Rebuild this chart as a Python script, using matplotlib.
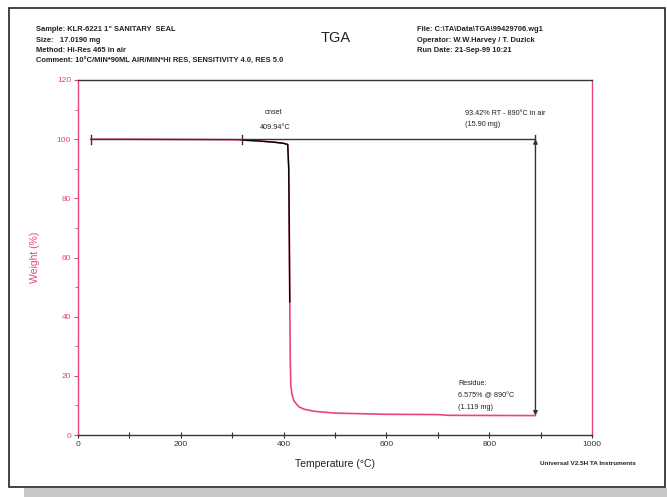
import matplotlib
matplotlib.use("Agg")
import matplotlib.pyplot as plt
from matplotlib.patches import Rectangle

# TGA curve
temp = [25, 100, 200, 300, 320, 350, 380, 400, 408, 410, 411, 412, 413, 414,
        416, 420, 430, 440, 460, 500, 550, 600, 650, 700, 720, 800, 890]
weight = [100.0, 100.0, 99.9, 99.8, 99.7, 99.4, 99.0, 98.6, 98.2, 90.0, 70.0, 45.0, 25.0, 17.0,
          14.0, 11.5, 9.5, 8.7, 8.0, 7.4, 7.2, 7.0, 6.95, 6.9, 6.65, 6.6, 6.575]

# step analysis marks
step_start = 25
onset_temp = 409.94
onset_mark = 320
step_end = 890
start_weight = 100.0
residue = 6.575

header_left = ['Sample: KLR-6221 1" SANITARY  SEAL',
               'Size:   17.0190 mg',
               'Method: Hi-Res 465 in air',
               'Comment: 10\u00b0C/MIN*90ML AIR/MIN*HI RES, SENSITIVITY 4.0, RES 5.0']
header_right = ['File: C:\\TA\\Data\\TGA\\99429706.wg1',
                'Operator: W.W.Harvey / T. Duzick',
                'Run Date: 21-Sep-99 10:21']

pink = "#e8457a"
dark = "#333333"
plt.rcParams['font.family'] = ['Liberation Sans', 'DejaVu Sans']

fig = plt.figure(figsize=(6.67, 4.97), dpi=100)
W, H = 667.0, 497.0

# outer frame and grey shadow band
fig.patches.append(Rectangle((24 / W, 0), 1 - 24 / W, 1 - 488 / H, transform=fig.transFigure,
                             facecolor="#c8c8c8", edgecolor="none", zorder=0))
fig.patches.append(Rectangle((9 / W, 1 - 487 / H), 656 / W, 479 / H, transform=fig.transFigure,
                             facecolor="white", edgecolor="#222222", linewidth=1.2, zorder=1))

ax = fig.add_axes([78 / W, 1 - 435 / H, 514 / W, 355 / H])
ax.set_zorder(2)
ax.plot(temp, weight, color=pink, linewidth=1.2, zorder=3)
seg_t = [t for t in temp if onset_mark <= t <= 412]
seg_w = [w for t, w in zip(temp, weight) if onset_mark <= t <= 412]
ax.plot(seg_t, seg_w, color="black", linewidth=1.0, zorder=4)

# step line with end bars
ax.plot([step_start, step_end], [start_weight, start_weight], color=dark, linewidth=1.0, zorder=5)
for xb in [step_start, onset_mark, step_end]:
    ax.plot([xb, xb], [start_weight - 1.5, start_weight + 1.5], color=dark, linewidth=1.0, zorder=5)
ax.annotate("", xy=(step_end, residue), xytext=(step_end, start_weight),
            arrowprops=dict(arrowstyle="<|-|>", color=dark, linewidth=1.0,
                            mutation_scale=6, shrinkA=0, shrinkB=0), zorder=5)

fs = 5.2
ax.text(380, 108.5, "onset", fontsize=fs, ha="center", color="#222222")
ax.text(384, 103.3, "%.2f\u00b0C" % onset_temp, fontsize=fs, ha="center", color="#222222")
ax.text(752, 108.3, "93.42% RT - 890\u00b0C in air", fontsize=fs, ha="left", color="#222222")
ax.text(752, 104.5, "(15.90 mg)", fontsize=fs, ha="left", color="#222222")
ax.text(740, 17.0, "Residue:", fontsize=fs, ha="left", color="#222222")
ax.text(740, 12.8, "%.3f%% @ 890\u00b0C" % residue, fontsize=fs, ha="left", color="#222222")
ax.text(740, 8.9, "(1.119 mg)", fontsize=fs, ha="left", color="#222222")

ax.set_xlim(0, 1000)
ax.set_ylim(0, 120)
ax.set_xticks(range(0, 1001, 200))
ax.set_xticks(range(0, 1001, 100), minor=True)
ax.set_yticks(range(0, 121, 20))
ax.set_yticks(range(0, 121, 10), minor=True)
ax.set_yticklabels(["0", "20", "40", "60", "80", "100", "120"])
ax.tick_params(axis="x", which="both", direction="inout", length=4, width=0.8,
               colors=dark, labelsize=6, pad=2)
ax.tick_params(axis="y", which="major", direction="out", length=3, width=0.8,
               colors=pink, labelsize=6, pad=2)
ax.tick_params(axis="y", which="minor", direction="out", length=2, width=0.6, colors=pink)
ax.spines["left"].set_color(pink)
ax.spines["right"].set_color(pink)
ax.spines["top"].set_color(dark)
ax.spines["bottom"].set_color(dark)
for s in ax.spines.values():
    s.set_linewidth(1.0)
ax.set_xlabel("Temperature (\u00b0C)", fontsize=7.5, color="#222222", labelpad=8)
ax.set_ylabel("Weight (%)", fontsize=7.5, color=pink, labelpad=12)

# header block
for i, line in enumerate(header_left):
    fig.text(36 / W, 1 - (31 + i * 10.7) / H, line, fontsize=5.4, fontweight="bold",
             color="#222222", va="baseline", zorder=3)
for i, line in enumerate(header_right):
    fig.text(417 / W, 1 - (31 + i * 10.7) / H, line, fontsize=5.4, fontweight="bold",
             color="#222222", va="baseline", zorder=3)
fig.text(336 / W, 1 - 42 / H, "TGA", fontsize=10.5, ha="center", va="baseline",
         color="#222222", zorder=3)
fig.text(588 / W, 1 - 465 / H, "Universal V2.5H TA Instruments", fontsize=4.6,
         fontweight="bold", ha="center", va="baseline", color="#222222", zorder=3)

fig.savefig("out.png", dpi=100)
